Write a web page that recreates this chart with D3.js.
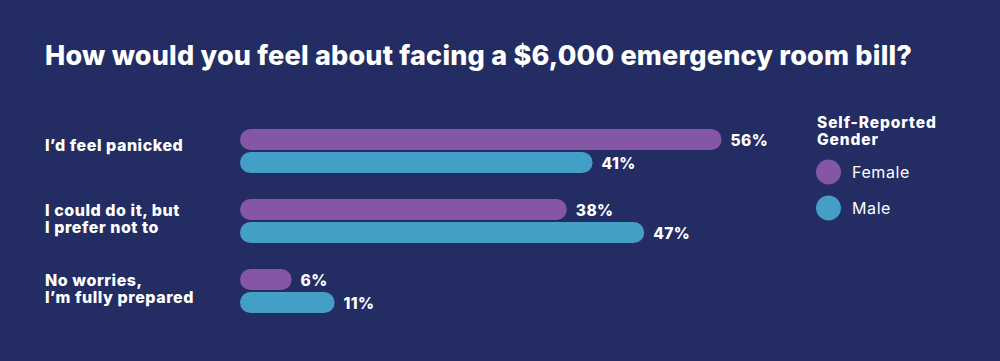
<!DOCTYPE html>
<html lang="en">
<head>
<meta charset="UTF-8">
<title>ER bill</title>
<style>
  body { margin: 0; background: #232d63; }
  svg text { font-family: Inter, "Noto Sans", sans-serif; fill: #fff; }
</style>
</head>
<body>
<div id="wrapper"></div>
<script src="https://d3js.org/d3.v7.min.js"></script>
<script>
  // data
  const categories = [
    ["I\u2019d feel panicked"],
    ["I could do it, but", "I prefer not to"],
    ["No worries,", "I\u2019m fully prepared"]
  ];
  const seriesNames = ["Female", "Male"];
  const female = [56, 38, 6];
  const male = [41, 47, 11];
  const colors = ["#8556a5", "#449fc6"];

  const width = 1000, height = 361;
  const svg = d3.select('#wrapper').append('svg')
    .attr('width', width).attr('height', height);

  svg.append('rect').attr('width', width).attr('height', height).attr('fill', '#232d63');

  // title
  svg.append('text')
    .attr('x', 45).attr('y', 65)
    .attr('font-size', 27).attr('font-weight', 800)
    .attr('textLength', 867).attr('lengthAdjust', 'spacing')
    .text('How would you feel about facing a $6,000 emergency room bill?');

  const x = d3.scaleLinear().domain([0, 56]).range([240, 721.6]);
  const y = d3.scalePoint().domain(d3.range(categories.length)).range([129, 269]);
  const barH = 21, gap = 2;
  const total = barH * 2 + gap;

  const groups = svg.selectAll('g.cat')
    .data(categories.map((c, i) => ({ label: c, vals: [female[i], male[i]], i })))
    .join('g').attr('class', 'cat')
    .attr('transform', d => `translate(0,${y(d.i)})`);

  groups.each(function (d) {
    const g = d3.select(this);
    const mid = total / 2;
    const offs = d.label.length === 1 ? [0] : [-5.5, 11.5];
    d.label.forEach((t, j) => {
      g.append('text')
        .attr('x', 45)
        .attr('y', mid + offs[j])
        .attr('font-size', 16).attr('font-weight', 800)
        .attr('letter-spacing', 0.55)
        .text(t);
    });
    d.vals.forEach((v, k) => {
      const yy = k * (barH + gap);
      g.append('rect')
        .attr('x', x(0)).attr('y', yy)
        .attr('width', x(v) - x(0)).attr('height', barH)
        .attr('rx', barH / 2)
        .attr('fill', colors[k]);
      g.append('text')
        .attr('x', x(v) + 9).attr('y', yy + barH / 2 + 6)
        .attr('font-size', 15.5).attr('font-weight', 800)
        .attr('letter-spacing', 0.4)
        .text(v + '%');
    });
  });

  // legend
  const legend = svg.append('g').attr('transform', 'translate(817,0)');
  legend.append('text').attr('x', 0).attr('y', 128)
    .attr('font-size', 15.5).attr('font-weight', 800).attr('letter-spacing', 0.9).text('Self-Reported');
  legend.append('text').attr('x', 0).attr('y', 145)
    .attr('font-size', 15.5).attr('font-weight', 800).attr('letter-spacing', 0.9).text('Gender');
  seriesNames.forEach((s, i) => {
    const cy = 172 + i * 36;
    legend.append('circle').attr('cx', 11.5).attr('cy', cy).attr('r', 12.5).attr('fill', colors[i]);
    legend.append('text').attr('x', 35).attr('y', cy + 5.5)
      .attr('font-size', 16).attr('font-weight', 400).attr('letter-spacing', 0.6).text(s);
  });
</script>
</body>
</html>
